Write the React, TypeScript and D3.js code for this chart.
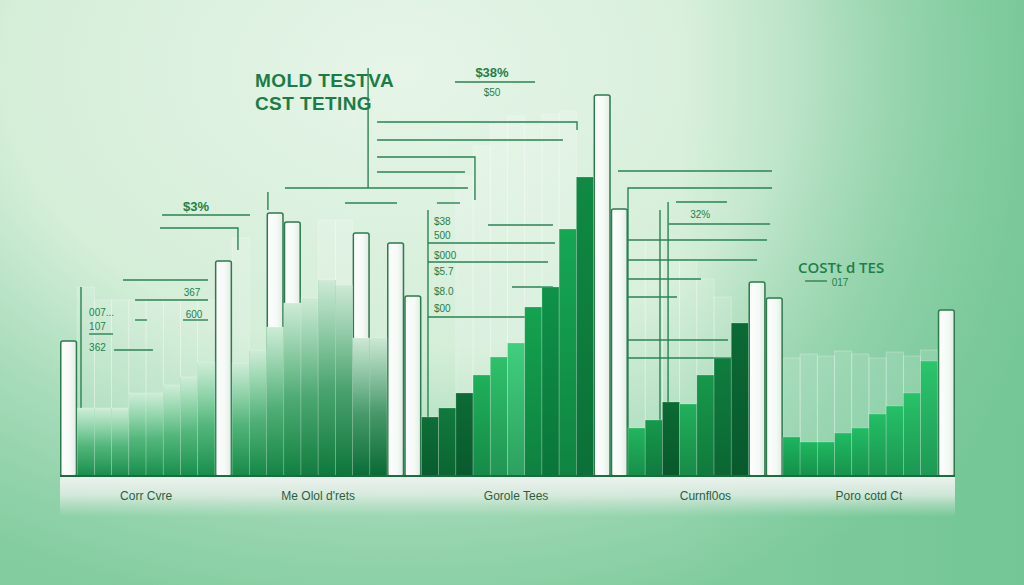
import React from "react";
import * as d3 from "d3";

const categories = ["Corr Cvre", "Me Olol d'rets", "Gorole Tees", "Curnfl0os", "Poro cotd Ct"];

// one entry per slot; null = nothing in that slot
const corrGreen = [null, 68, 68, 68, 83, 83, 91, 99, 114, null];
const corrWhite = [135, null, null, null, null, null, null, null, null, 215];
const corrGhost = [null, 189, 176, 176, 176, 176, 176, 176, 176, null];

const moldGreen = [113, 126, 149, 173, 178, 196, 191, 138, 138, null];
const moldWhite = [null, null, 263, 254, null, null, null, 243, null, 233];
const moldGhost = [238, null, null, null, null, 256, 256, null, null, null];

const goroleGreen = [null, 59, 68, 83, 101, 119, 133, 169, 189, 247, 299, null, null];
const goroleWhite = [180, null, null, null, null, null, null, null, null, null, null, 381, 267];
const goroleGhost = [null, null, null, 300, 330, 355, 360, 350, 362, 365, null, null, null];

const curnGreen = [48, 56, 74, 72, 101, 118, 153, null, null];
const curnWhite = [null, null, null, null, null, null, null, 194, 178];
const curnGhost = [236, 236, 216, 216, 197, 179, null, null, null];

const poroGreen = [39, 34, 34, 43, 48, 62, 70, 83, 115, null];
const poroWhite = [null, null, null, null, null, null, null, null, null, 166];
const poroGhost = [118, 122, 120, 125, 122, 118, 124, 120, 126, null];

// leader lines, points as [slot, value]
const leaderLines: [number, number][][] = [
  [[5.93, 261], [11.04, 261]],
  [[5.81, 248], [10.34, 248], [10.34, 226]],
  [[3.66, 196], [8.6, 196]],
  [[4.36, 176], [8.6, 176]],
  [[7.15, 156], [8.6, 156]],
  [[4.36, 156], [5.05, 156]],
  [[1.69, 142], [3.08, 142]],
  [[3.14, 126], [5.4, 126]],
  [[1.22, 189], [1.22, 0]],
  [[17.9, 408], [17.9, 288]],
  [[13.07, 288], [23.7, 288]],
  [[18.42, 354], [30.04, 354], [30.04, 346]],
  [[18.42, 336], [29.22, 336]],
  [[18.42, 319], [24.11, 319], [24.11, 276]],
  [[18.42, 304], [23.53, 304]],
  [[16.56, 273], [19.58, 273]],
  [[12.08, 284], [12.08, 266]],
  [[22.95, 394], [27.6, 394]],
  [[21.38, 266], [21.38, 0]],
  [[21.38, 233], [28.76, 233]],
  [[21.38, 214], [28.35, 214]],
  [[26.26, 189], [28.64, 189]],
  [[21.38, 159], [27.89, 159]],
  [[24.87, 251], [28.64, 251]],
  [[21.9, 273], [23.24, 273]],
  [[32.42, 305], [41.37, 305]],
  [[33.0, 0], [33.0, 288], [41.37, 288]],
  [[35.79, 274], [38.75, 274]],
  [[35.38, 252], [41.25, 252]],
  [[33, 236], [41.08, 236]],
  [[33, 216], [40.5, 216]],
  [[33, 197], [37.24, 197]],
  [[33, 179], [35.85, 179]],
  [[33, 136], [38.81, 136]],
  [[33, 118], [39.51, 118]],
  [[34.86, 266], [34.86, 46]],
  [[35.33, 274], [35.33, 46]],
  [[43.29, 195], [44.56, 195]],
];

const titleLines = ["MOLD TESTVA", "CST TETING"];
const titleValues = [389, 366];

const noteTexts = ["$3%", "367", "600", "007...", "107", "362", "$38%", "$50", "$38", "500", "$000", "$5.7", "$8.0", "$00", "32%", "COSTt d TES", "017"];
const noteSlots = [7.9, 7.67, 7.79, 1.69, 1.69, 1.69, 25.1, 25.1, 21.73, 21.73, 21.73, 21.73, 21.73, 21.73, 37.2, 42.88, 45.32];
const noteValues = [265, 180, 158, 160, 146, 125, 399, 380, 251, 237, 217, 201, 181, 164, 258, 203, 190];

const palettes = [
  ["#22b45f", "#22b45f", "#22b45f", "#22b45f", "#22b45f", "#22b45f", "#22b45f", "#22b45f"],
  ["#1fae5a", "#1eab58", "#1ba554", "#18a050", "#169b4d", "#13964a", "#119147", "#0d8442", "#0c8040"],
  ["#0d6e37", "#107a3d", "#0c6b35", "#1fb05b", "#2fc06b", "#40cf7e", "#14a350", "#0e9248", "#15a753", "#0f8a44"],
  ["#22b55e", "#16994c", "#0b6a33", "#21b05c", "#17984b", "#0f7d3e", "#0b6a34"],
  ["#1cb65e", "#1eb860", "#1fb961", "#21bb63", "#22bc64", "#24be66", "#26c068", "#28c26a", "#2bc56d"],
];

const W = 1024;
const H = 585;

const App: React.FC = () => {
  const groups = [
    { green: corrGreen, white: corrWhite, ghost: corrGhost, fade: true, ghostOp: 0.14 },
    { green: moldGreen, white: moldWhite, ghost: moldGhost, fade: true, ghostOp: 0.16 },
    { green: goroleGreen, white: goroleWhite, ghost: goroleGhost, fade: false, ghostOp: 0.16 },
    { green: curnGreen, white: curnWhite, ghost: curnGhost, fade: false, ghostOp: 0.12 },
    { green: poroGreen, white: poroWhite, ghost: poroGhost, fade: false, ghostOp: 0.12 },
  ];
  const counts = groups.map(g => g.green.length);
  const total = d3.sum(counts);
  const offsets = counts.map((_, i) => d3.sum(counts.slice(0, i)));

  const x = d3.scaleBand<number>().domain(d3.range(total)).range([60, 955]).padding(0);
  const sx = d3.scaleLinear().domain([0, total]).range([60, 955]);
  const y = d3.scaleLinear().domain([0, 400]).range([476, 76]);
  const bw = x.bandwidth();

  const line = d3.line<[number, number]>().x(d => sx(d[0])).y(d => y(d[1]));

  const textGreen = "#1f7f4a";
  const noteFont = "'Liberation Sans Narrow', 'Liberation Sans', sans-serif";

  return (
    <svg width={W} height={H} style={{ position: "absolute", left: 0, top: 0, display: "block" }}>
      <defs>
        <radialGradient id="bg" gradientUnits="userSpaceOnUse" cx={0} cy={0} r={1}
          gradientTransform="translate(400,70) scale(800,560)">
          <stop offset="0%" stopColor="#e6f5e8" />
          <stop offset="50%" stopColor="#d4eed8" />
          <stop offset="72%" stopColor="#a8dcba" />
          <stop offset="88%" stopColor="#90d2aa" />
          <stop offset="100%" stopColor="#82cc9f" />
        </radialGradient>
        <linearGradient id="rightShade" gradientUnits="userSpaceOnUse" x1={680} y1={0} x2={1024} y2={0}>
          <stop offset="0%" stopColor="#6fc493" stopOpacity={0} />
          <stop offset="100%" stopColor="#6fc493" stopOpacity={0.75} />
        </linearGradient>
        <linearGradient id="whiteBar" x1="0" y1="0" x2="1" y2="0">
          <stop offset="0%" stopColor="#fdfefd" />
          <stop offset="60%" stopColor="#f5faf6" />
          <stop offset="100%" stopColor="#dfece3" />
        </linearGradient>
        <linearGradient id="fadeTop" x1="0" y1="0" x2="0" y2="1">
          <stop offset="0%" stopColor="#e2f3e5" stopOpacity={0.9} />
          <stop offset="55%" stopColor="#e2f3e5" stopOpacity={0.28} />
          <stop offset="100%" stopColor="#e2f3e5" stopOpacity={0} />
        </linearGradient>
        <linearGradient id="darkBottom" x1="0" y1="0" x2="0" y2="1">
          <stop offset="0%" stopColor="#003318" stopOpacity={0} />
          <stop offset="100%" stopColor="#003318" stopOpacity={0.3} />
        </linearGradient>
        <linearGradient id="footer" x1="0" y1="0" x2="0" y2="1">
          <stop offset="0%" stopColor="#eef3ef" stopOpacity={0.97} />
          <stop offset="45%" stopColor="#e4eee7" stopOpacity={0.8} />
          <stop offset="100%" stopColor="#cfe6d6" stopOpacity={0} />
        </linearGradient>
      </defs>

      <rect width={W} height={H} fill="url(#bg)" />
      <rect width={W} height={H} fill="url(#rightShade)" />

      {/* ghost columns */}
      {groups.map((g, gi) =>
        g.ghost.map((v, i) =>
          v == null ? null : (
            <rect
              key={`gh${gi}-${i}`}
              x={x(offsets[gi] + i)}
              y={y(v)}
              width={bw}
              height={y(0) - y(v)}
              fill="#ffffff"
              fillOpacity={g.ghostOp}
              stroke="#ffffff"
              strokeOpacity={0.32}
              strokeWidth={0.8}
            />
          )
        )
      )}

      {/* leader lines */}
      {leaderLines.map((pts, i) => (
        <path key={`ll${i}`} d={line(pts) || ""} fill="none" stroke="#2a8353" strokeWidth={1.4} />
      ))}

      {/* white bars */}
      {groups.map((g, gi) =>
        g.white.map((v, i) =>
          v == null ? null : (
            <rect
              key={`w${gi}-${i}`}
              x={(x(offsets[gi] + i) as number) + 0.75}
              y={y(v)}
              width={bw - 1.5}
              height={y(0) - y(v)}
              rx={2}
              fill="url(#whiteBar)"
              stroke="#2d7a4d"
              strokeWidth={1.5}
            />
          )
        )
      )}

      {/* green bars */}
      {groups.map((g, gi) => {
        let k = 0;
        return g.green.map((v, i) => {
          if (v == null) return null;
          const c = palettes[gi][k++ % palettes[gi].length];
          const bx = x(offsets[gi] + i) as number;
          const by = y(v);
          const bh = y(0) - y(v);
          return (
            <g key={`g${gi}-${i}`}>
              <rect x={bx} y={by} width={bw} height={bh} fill={c} />
              <rect x={bx} y={by} width={bw} height={bh} fill="url(#darkBottom)" />
              {g.fade && <rect x={bx} y={by} width={bw} height={bh} fill="url(#fadeTop)" />}
              <rect x={bx} y={by} width={bw} height={bh} fill="none" stroke="#ffffff" strokeOpacity={0.3} strokeWidth={0.7} />
            </g>
          );
        });
      })}

      {/* title */}
      {titleLines.map((t, i) => (
        <text
          key={`t${i}`}
          x={sx(11.33)}
          y={y(titleValues[i])}
          fill="#1b7c46"
          fontFamily="'Liberation Sans', Arial, sans-serif"
          fontWeight={700}
          fontSize={19}
          letterSpacing={0.4}
        >
          {t}
        </text>
      ))}

      {/* notes */}
      {noteTexts.map((t, i) => {
        const big = t === "COSTt d TES";
        const mid = t === "$3%" || t === "$38%";
        const left = ["007...", "107", "362", "$38", "500", "$000", "$5.7", "$8.0", "$00", "COSTt d TES"].includes(t);
        return (
          <text
            key={`n${i}`}
            x={sx(noteSlots[i])}
            y={y(noteValues[i])}
            textAnchor={left ? "start" : "middle"}
            fill={textGreen}
            fontFamily={big ? "'Open Sans', 'Liberation Sans', sans-serif" : noteFont}
            fontWeight={big || mid ? 600 : 400}
            fontSize={big ? 15 : mid ? 13 : 10}
          >
            {t}
          </text>
        );
      })}

      {/* footer band */}
      <rect x={60} y={y(0) + 1} width={895} height={40} fill="url(#footer)" />
      <line x1={60} x2={955} y1={y(0)} y2={y(0)} stroke="#1d6b40" strokeWidth={2} />
      {categories.map((c, i) => (
        <text
          key={`c${i}`}
          x={sx(offsets[i] + counts[i] / 2)}
          y={y(0) + 24}
          textAnchor="middle"
          fill="#2e5d43"
          fontFamily={noteFont}
          fontSize={12}
        >
          {c}
        </text>
      ))}
    </svg>
  );
};

export default App;
